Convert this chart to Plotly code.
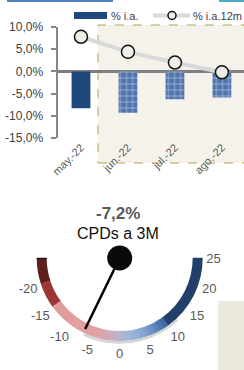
import plotly.graph_objects as go

# ---- data ----
months = ["may.-22", "jun.-22", "jul.-22", "ago.-22"]
ia = [-8.3, -9.3, -6.3, -5.9]          # % i.a. (bars)
ia12 = [7.8, 4.4, 2.0, -0.2]           # % i.a.12m (line)
series_names = ["% i.a.", "% i.a.12m"]
y_ticks = [-15, -10, -5, 0, 5, 10]
y_tick_labels = ["-15,0%", "-10,0%", "-5,0%", "0,0%", "5,0%", "10,0%"]
y_grid = [-10, -5, 5, 10]

gauge_value = -7.2
gauge_title_value = "-7,2%"
gauge_title = "CPDs a 3M"
gauge_min, gauge_max = -25, 25
gauge_ticks = [-20, -15, -10, -5, 0, 5, 10, 15, 20, 25]
band_lo = [-25, -20, -15, -10, -5, -4, -3, -2, -1, 0, 1, 2, 3, 4, 5, 6, 7, 8, 9, 10]
band_hi = [-20, -15, -10, -5, -4, -3, -2, -1, 0, 1, 2, 3, 4, 5, 6, 7, 8, 9, 10, 25]
band_colors = ["#5e1e1e", "#9a3634", "#e19c9c", "#e3a0a0", "#e0a0a4", "#d9a4ab",
               "#d0a9b4", "#c6aebe", "#bab2c8", "#adb5d0", "#a2b7d6", "#9ab5d9",
               "#92b0da", "#88a9d6", "#7b9ece", "#6d92c5", "#5e85bb", "#4f78b0",
               "#3f6aa2", "#213f68"]
shadow_lo, shadow_hi = -7, 12

BAR_DARK = "#1f497d"
BAR_FC = "#4f74ad"
LINE_C = "#d9d9d9"
MARK_FILL = "#eeeee4"


def deg(v):
    # gauge value -> angular degrees (180 degrees spans min..max)
    return (v - gauge_min) / (gauge_max - gauge_min) * 180.0


fig = go.Figure()

# ---- top chart ----
fig.add_trace(go.Bar(
    x=months, y=ia, name=series_names[0], width=0.4, showlegend=False,
    marker=dict(color=[BAR_DARK, BAR_FC, BAR_FC, BAR_FC],
                line=dict(width=0),
                pattern=dict(shape=["", "+", "+", "+"], fgcolor="#dde5f0",
                             size=6, solidity=0.25, fillmode="overlay")),
    xaxis="x", yaxis="y",
))
fig.add_trace(go.Scatter(
    x=months, y=ia12, name=series_names[1], mode="lines+markers", showlegend=False,
    line=dict(color=LINE_C, width=4),
    marker=dict(size=13, color=MARK_FILL, line=dict(color="#111111", width=1.5)),
    xaxis="x", yaxis="y",
))

# ---- gauge ----
fig.add_trace(go.Barpolar(
    r=[2.8], base=[83], theta=[(deg(shadow_lo) + deg(shadow_hi)) / 2],
    width=[deg(shadow_hi) - deg(shadow_lo)],
    marker=dict(color="#d6d6d6", line=dict(width=0)), showlegend=False, hoverinfo="skip",
    subplot="polar",
))
for lo, hi, c in zip(band_lo, band_hi, band_colors):
    fig.add_trace(go.Barpolar(
        r=[10], base=[73], theta=[(deg(lo) + deg(hi)) / 2], width=[deg(hi) - deg(lo) + 0.3],
        marker=dict(color=c, line=dict(width=0)), showlegend=False, hoverinfo="skip",
        subplot="polar",
    ))
fig.add_trace(go.Barpolar(
    r=[10], base=[73], theta=[0.4], width=[0.8],
    marker=dict(color="#111111", line=dict(width=0)), showlegend=False, subplot="polar",
))
fig.add_trace(go.Scatterpolar(
    r=[0, 79], theta=[deg(gauge_value)] * 2, mode="lines",
    line=dict(color="black", width=2.5), showlegend=False, subplot="polar",
    cliponaxis=False,
))
fig.add_trace(go.Scatterpolar(
    r=[0], theta=[0], mode="markers",
    marker=dict(size=25, color="#0a0a0a"), showlegend=False, subplot="polar",
    cliponaxis=False,
))

W, H = 244, 370


def py(p):
    return 1 - p / H


def px(p):
    return p / W


R_MAX = 86  # radial range, 1 unit = 1 px
CX, CY = 119.7, 258

fig.update_layout(
    width=W, height=H,
    margin=dict(l=0, r=0, t=0, b=0, autoexpand=False),
    paper_bgcolor="white", plot_bgcolor="rgba(0,0,0,0)",
    font=dict(family="Liberation Sans, Arial, sans-serif", color="#404040"),
    showlegend=False,
    xaxis=dict(domain=[px(57.5), 1], range=[-0.5, 3.47], type="category",
               showline=False, ticks="", tickangle=-45, showgrid=False,
               tickfont=dict(size=11, color="#595959"), automargin=False),
    yaxis=dict(domain=[py(138), py(27)], range=[-15, 10], tickvals=y_ticks,
               ticktext=y_tick_labels, showline=True, linecolor="#868686", linewidth=2,
               ticks="outside", ticklen=5, tickcolor="#868686", tickwidth=2,
               ticklabelstandoff=5, showgrid=False, zeroline=True,
               zerolinecolor="#7f7f7f", zerolinewidth=2.5,
               tickfont=dict(size=12, color="#404040"), automargin=False),
    yaxis2=dict(domain=[py(138), py(27)], range=[-15, 10], overlaying="y",
                anchor="x", tickvals=y_grid, showticklabels=False, ticks="",
                showgrid=True, gridcolor="#b3b3b3", gridwidth=1.5, zeroline=False,
                showline=False, automargin=False),
    polar=dict(
        domain=dict(x=[px(CX - R_MAX), px(CX + R_MAX)], y=[py(CY + R_MAX), py(CY - R_MAX)]),
        bgcolor="rgba(0,0,0,0)",
        radialaxis=dict(range=[0, R_MAX], visible=False),
        angularaxis=dict(rotation=180, direction="counterclockwise", thetaunit="degrees",
                         tickmode="array",
                         tickvals=[deg(v) for v in gauge_ticks],
                         ticktext=[str(v) for v in gauge_ticks],
                         showgrid=False, showline=False, ticks="",
                         showticklabels=True,
                         tickfont=dict(size=13, color="#595959")),
    ),
    shapes=[
        dict(type="rect", xref="paper", yref="paper", x0=px(98), x1=1.02,
             y0=py(163), y1=py(25), fillcolor="#f4f2ea", layer="below",
             line=dict(color="#b3a24f", width=1, dash="dash")),
        dict(type="rect", xref="paper", yref="paper", x0=px(7), x1=px(113),
             y0=py(2), y1=1, fillcolor="#4f81bd", line=dict(width=0)),
        dict(type="rect", xref="paper", yref="paper", x0=px(219), x1=1,
             y0=py(2), y1=1, fillcolor="#4bacc6", line=dict(width=0)),
        dict(type="rect", xref="paper", yref="paper", x0=px(218), x1=1,
             y0=0, y1=py(301), fillcolor="#ebe8dd", line=dict(width=0)),
        # legend symbols
        dict(type="rect", xref="paper", yref="paper", x0=px(74), x1=px(107),
             y0=py(19), y1=py(12), fillcolor=BAR_DARK, line=dict(width=0)),
        dict(type="line", xref="paper", yref="paper", x0=px(153), x1=px(190),
             y0=py(15.5), y1=py(15.5), line=dict(color=LINE_C, width=4)),
        dict(type="circle", xref="paper", yref="paper", x0=px(168), x1=px(176),
             y0=py(19.5), y1=py(11.5), fillcolor=MARK_FILL,
             line=dict(color="#111111", width=1.5)),
    ],
    annotations=[
        dict(text=series_names[0], x=px(109), y=py(15.5), xref="paper", yref="paper",
             xanchor="left", yanchor="middle", showarrow=False,
             font=dict(size=11, color="#404040")),
        dict(text=series_names[1], x=px(191), y=py(15.5), xref="paper", yref="paper",
             xanchor="left", yanchor="middle", showarrow=False,
             font=dict(size=11, color="#404040")),
        dict(text="<b>" + gauge_title_value + "</b>", x=px(118), y=py(213), xref="paper",
             yref="paper", showarrow=False, font=dict(size=17, color="#595959")),
        dict(text=gauge_title, x=px(118), y=py(233), xref="paper", yref="paper",
             showarrow=False, font=dict(size=16, color="#111111")),
    ],
)

fig.write_html("out.html", config={"displayModeBar": False},
               post_script="document.body.style.margin='0px';document.body.style.overflow='hidden';")
